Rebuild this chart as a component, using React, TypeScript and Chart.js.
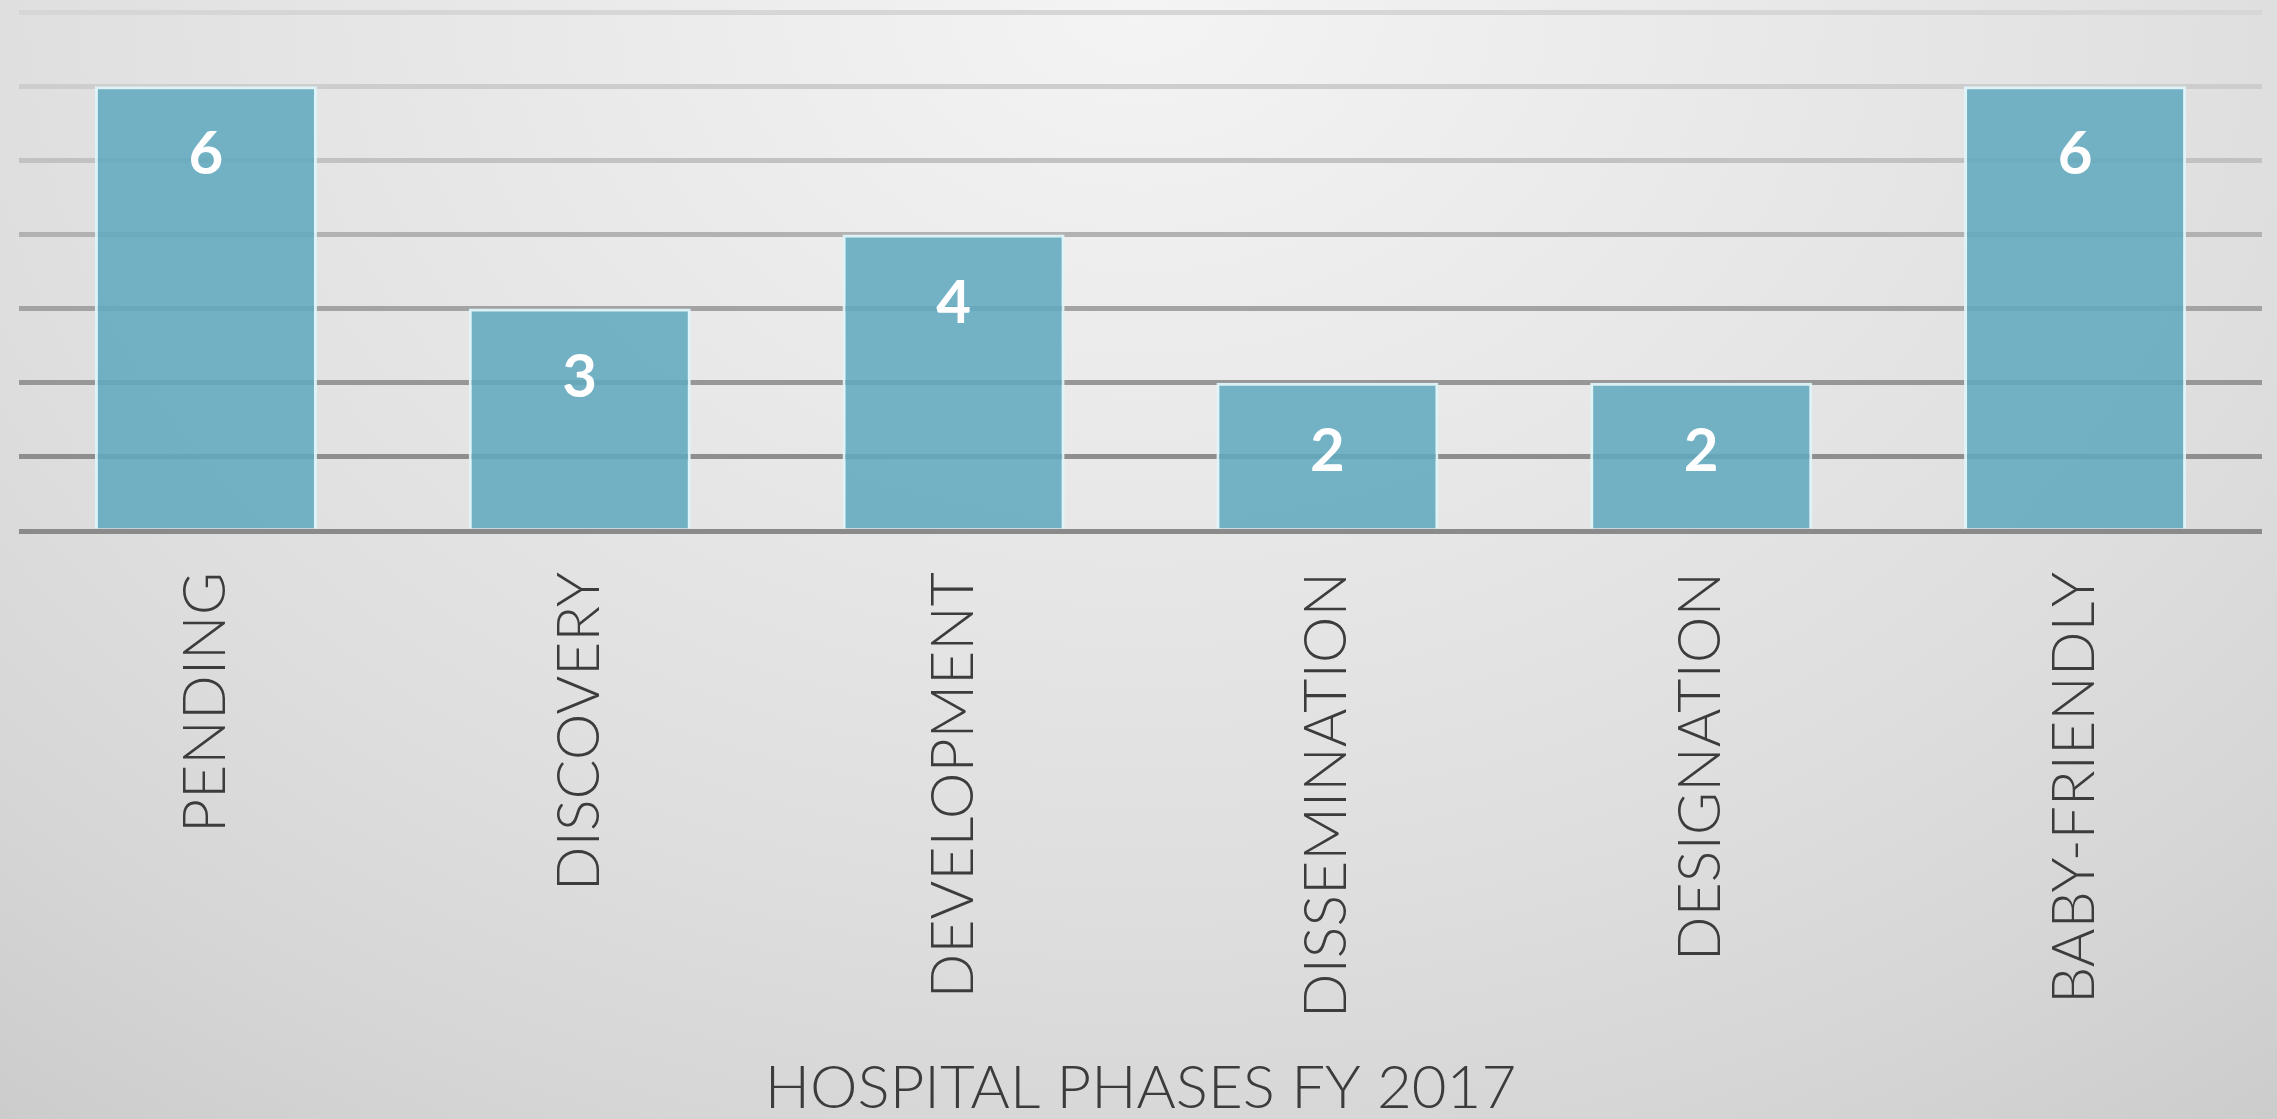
import React, { useEffect, useRef } from "react";
import { Chart, registerables } from "chart.js";

Chart.register(...registerables);

const categories = ["PENDING", "DISCOVERY", "DEVELOPMENT", "DISSEMINATION", "DESIGNATION", "BABY-FRIENDLY"];
const values = [6, 3, 4, 2, 2, 6];
const yMin = 0;
const yMax = 7;
const yStep = 1;
const axisTitle = "HOSPITAL PHASES FY 2017";
const gridColors = ["#8a8a8a", "#8e8e8e", "#979797", "#a3a3a3", "#b2b2b2", "#c2c2c2", "#cdcdcd", "#d6d6d6"];

const W = 2277;
const H = 1119;

const valueLabels = {
  id: "valueLabels",
  afterDatasetsDraw(chart: any) {
    const ctx = chart.ctx;
    const meta = chart.getDatasetMeta(0);
    ctx.save();
    ctx.fillStyle = "#ffffff";
    ctx.font = "bold 60px Lato, 'Open Sans', sans-serif";
    ctx.textAlign = "center";
    ctx.textBaseline = "middle";
    meta.data.forEach((el: any, i: number) => {
      ctx.fillText(String(values[i]), el.x, el.y + 69);
    });
    ctx.restore();
  },
};

export default function App() {
  const ref = useRef<HTMLCanvasElement | null>(null);
  useEffect(() => {
    if (!ref.current) return;
    const chart = new Chart(ref.current, {
      type: "bar",
      data: {
        labels: categories,
        datasets: [
          {
            data: values,
            backgroundColor: "rgba(98,170,190,0.88)",
            borderColor: "rgba(222,244,250,0.95)",
            borderWidth: 3,
            barPercentage: 0.594,
            categoryPercentage: 1,
          },
        ],
      },
      options: {
        animation: false,
        responsive: false,
        maintainAspectRatio: false,
        layout: { padding: { left: 19, right: 15, top: 12, bottom: 0 } },
        plugins: {
          legend: { display: false },
          tooltip: { enabled: false },
        },
        scales: {
          x: {
            grid: { display: false },
            border: { display: false },
            ticks: {
              color: "#3c3c3c",
              font: { family: "Lato, 'Open Sans', sans-serif", size: 59, weight: "300" as any },
              minRotation: 90,
              maxRotation: 90,
              padding: 33,
              autoSkip: false,
            },
            title: {
              display: true,
              text: axisTitle,
              color: "#3c3c3c",
              font: { family: "Lato, 'Open Sans', sans-serif", size: 60, weight: "300" as any, lineHeight: 1.0 },
              padding: { top: 0, bottom: 0 },
            },
            afterFit: (scale: any) => {
              scale.height = H - 531;
            },
          },
          y: {
            min: yMin,
            max: yMax,
            ticks: { display: false, stepSize: yStep },
            border: { display: false },
            grid: {
              drawTicks: false,
              lineWidth: 5,
              color: (c: any) => gridColors[c.index] ?? "#999",
            },
            afterFit: (scale: any) => {
              scale.width = 0;
            },
          },
        },
      },
      plugins: [valueLabels],
    });
    return () => chart.destroy();
  }, []);

  return (
    <div
      style={{
        position: "absolute",
        left: 0,
        top: 0,
        width: W,
        height: H,
        background:
          "radial-gradient(ellipse 1700px 1300px at 50% 0%, #f4f4f4 0%, #e6e6e6 45%, #dedede 70%, #d6d6d6 90%, #c9c9c9 115%)",
      }}
    >
      <canvas ref={ref} width={W} height={H} style={{ display: "block", width: W, height: H }} />
    </div>
  );
}
